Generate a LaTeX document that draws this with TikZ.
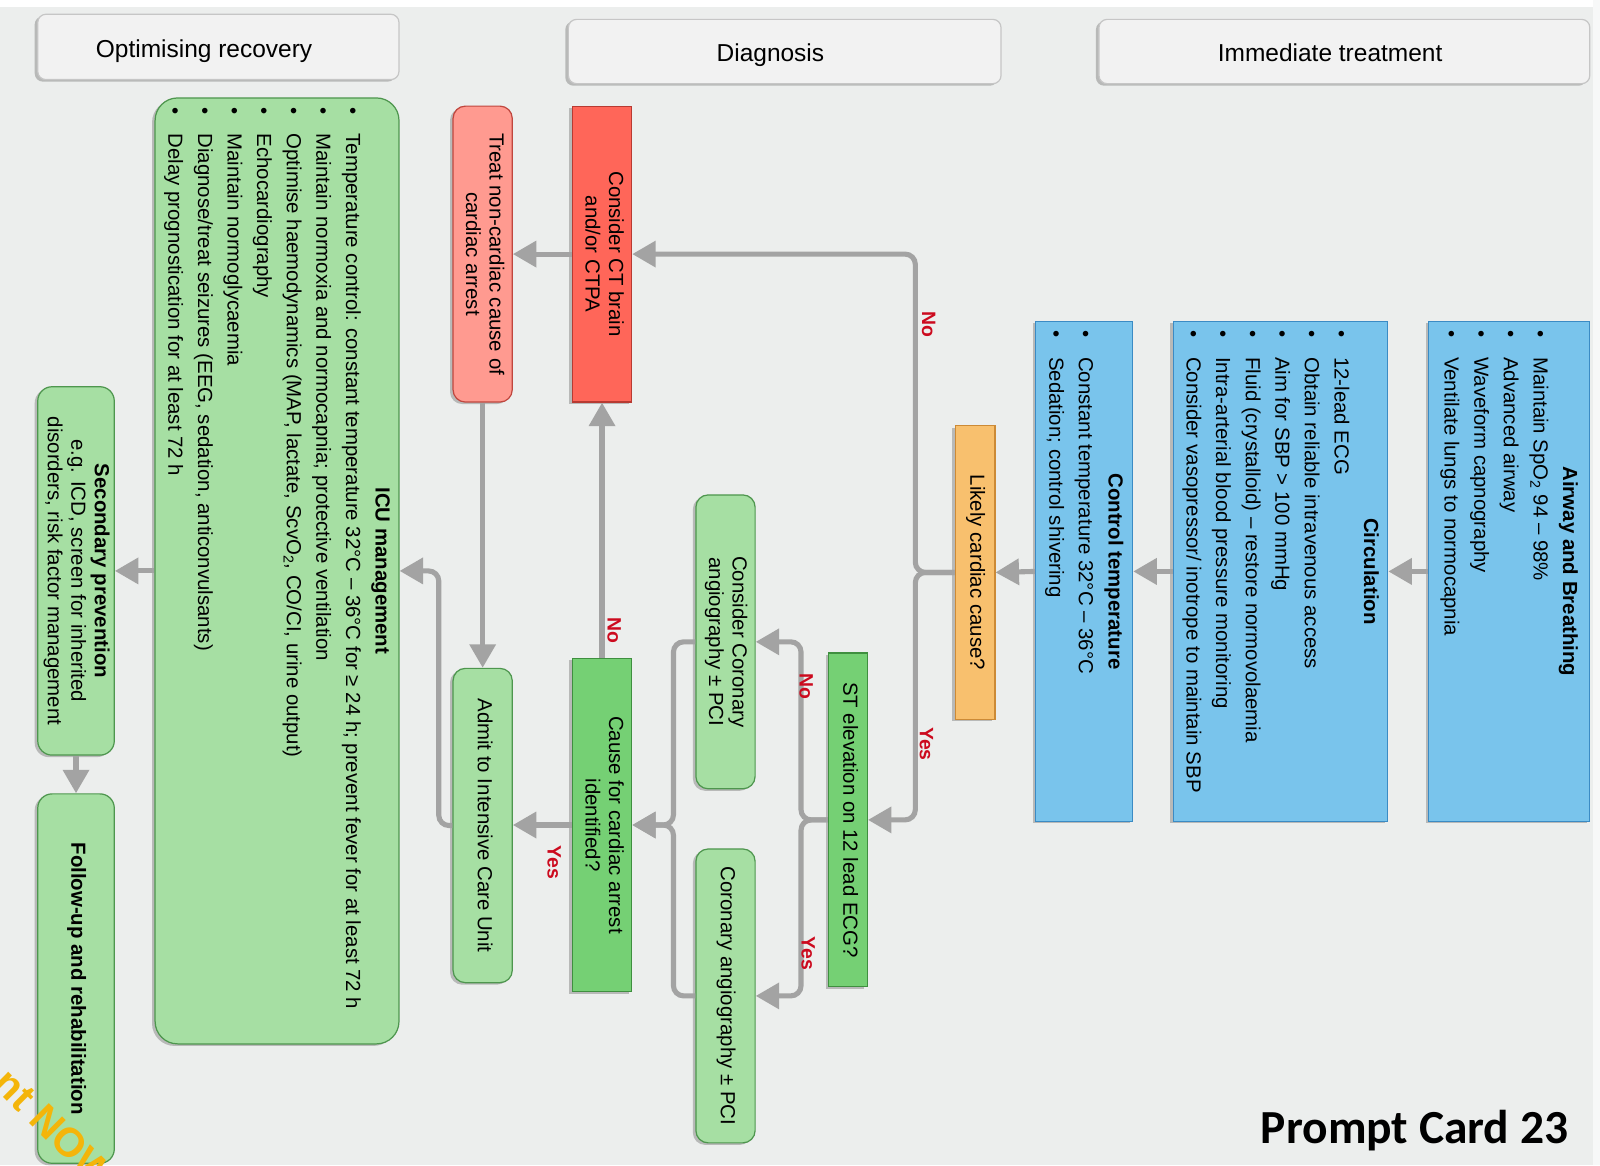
\documentclass[tikz,border=0pt]{standalone}
\usepackage{fontspec}
\usepackage{graphicx}
\setmainfont{Liberation Sans}
\newfontfamily\calibfont{Carlito}
\usetikzlibrary{arrows.meta,shadows}

\definecolor{bg}{HTML}{ECEEED}
\definecolor{hdrfill}{HTML}{F2F2F2}
\definecolor{hdrdraw}{HTML}{C6C6C6}
\definecolor{bluefill}{HTML}{79C4EC}
\definecolor{bluedraw}{HTML}{3B8BC4}
\definecolor{orfill}{HTML}{F8C06E}
\definecolor{ordraw}{HTML}{CC8A36}
\definecolor{dgfill}{HTML}{75D074}
\definecolor{dgdraw}{HTML}{3F8F3F}
\definecolor{lgfill}{HTML}{A6DFA3}
\definecolor{lgdraw}{HTML}{4E964E}
\definecolor{redfill}{HTML}{FF6659}
\definecolor{reddraw}{HTML}{B83A32}
\definecolor{pinkfill}{HTML}{FF9A90}
\definecolor{pinkdraw}{HTML}{C0463E}
\definecolor{arrgray}{HTML}{A3A3A3}
\definecolor{lblred}{HTML}{CC0A1E}
\definecolor{gold}{HTML}{F4B50A}

\newcommand{\rtext}[1]{\rotatebox{-90}{\begin{tabular}{@{}c@{}}#1\end{tabular}}}
\newcommand{\blist}[3]{\rotatebox{-90}{\parbox{#1}{\fontsize{20pt}{29pt}\selectfont\centering\textbf{#2}\par\raggedright #3}}}
\newcommand{\bitem}[1]{\makebox[26pt][l]{\textbullet}#1\par}
\newcommand{\hdrtext}[1]{\raisebox{-10pt}[0pt][0pt]{\hspace*{-28pt}#1}}

\tikzset{
  shd/.style={drop shadow={shadow xshift=-3pt,shadow yshift=-2pt,fill=black,opacity=0.22}},
  box/.style={draw, line width=1.2pt, inner sep=0pt, font=\fontsize{20pt}{23pt}\selectfont, shd},
  hdr/.style={box, fill=hdrfill, draw=hdrdraw, rounded corners=8pt, font=\fontsize{24pt}{28pt}\selectfont},
  bluebox/.style={box, fill=bluefill, draw=bluedraw},
  orbox/.style={box, fill=orfill, draw=ordraw},
  dgbox/.style={box, fill=dgfill, draw=dgdraw},
  lgbox/.style={box, fill=lgfill, draw=lgdraw, rounded corners=12pt},
  redbox/.style={box, fill=redfill, draw=reddraw},
  pinkbox/.style={box, fill=pinkfill, draw=pinkdraw, rounded corners=12pt},
  arr/.style={draw=arrgray, line width=5pt, -{Triangle[length=23pt,width=25pt]}, rounded corners=10pt},
  lbl/.style={text=lblred, font=\bfseries\fontsize{19pt}{21pt}\selectfont, rotate=-90, inner sep=0pt},
}

\begin{document}
\begin{tikzpicture}[x=1pt,y=-1pt]
\useasboundingbox (0,0) rectangle (1568,1142);
\fill[bg] (0,0) rectangle (1568,1142);
\fill[white] (0,0) rectangle (1568,7);
\fill[white!60!bg] (1561,0) rectangle (1568,1142);
\begin{scope}
\clip (0,0) rectangle (1568,1142);

% headers
\node[hdr, minimum width=354pt, minimum height=64pt] (hrec) at (214,46) {\hdrtext{Optimising recovery}};
\node[hdr, minimum width=424pt, minimum height=63pt] (hdiag) at (769,50.5) {\hdrtext{Diagnosis}};
\node[hdr, minimum width=481pt, minimum height=63pt] (himm) at (1317.5,50.5) {\hdrtext{Immediate treatment}};

% immediate treatment
\node[bluebox, minimum width=158pt, minimum height=490pt] (air) at (1479,560)
  {\blist{472pt}{Airway and Breathing}{\bitem{Maintain SpO\textsubscript{2} 94 – 98\%}\bitem{Advanced airway}\bitem{Waveform capnography}\bitem{Ventilate lungs to normocapnia}}};
\node[bluebox, minimum width=210pt, minimum height=490pt] (circ) at (1255,560)
  {\blist{472pt}{Circulation}{\bitem{12-lead ECG}\bitem{Obtain reliable intravenous access}\bitem{Aim for SBP > 100 mmHg}\bitem{Fluid (crystalloid) – restore normovolaemia}\bitem{Intra-arterial blood pressure monitoring}\bitem{Consider vasopressor/ inotrope to maintain SBP}}};
\node[bluebox, minimum width=95pt, minimum height=490pt] (ctemp) at (1062.5,560)
  {\blist{472pt}{Control temperature}{\bitem{Constant temperature 32°C – 36°C}\bitem{Sedation; control shivering}}};

% diagnosis
\node[orbox, minimum width=39pt, minimum height=288pt] (likely) at (955.5,561) {\rtext{Likely cardiac cause?}};
\node[dgbox, minimum width=38pt, minimum height=327pt] (st) at (831,803.5) {\rtext{ST elevation on 12 lead ECG?}};
\node[lgbox, minimum width=58pt, minimum height=288pt] (ccons) at (711,629) {\rtext{Consider Coronary\\angiography ± PCI}};
\node[lgbox, minimum width=58pt, minimum height=288pt] (cang) at (711,976) {\rtext{Coronary angiography ± PCI}};
\node[dgbox, minimum width=58pt, minimum height=327pt] (cause) at (590,808.5) {\rtext{Cause for cardiac arrest\\identified?}};
\node[redbox, minimum width=58pt, minimum height=290pt] (ct) at (590,249) {\rtext{Consider CT brain\\and/or CTPA}};
\node[pinkbox, minimum width=58pt, minimum height=290pt] (treat) at (473,249) {\rtext{Treat non-cardiac cause of\\cardiac arrest}};
\node[lgbox, minimum width=58pt, minimum height=308pt] (admit) at (473,809) {\rtext{Admit to Intensive Care Unit}};

% optimising recovery
\node[lgbox, rounded corners=22pt, minimum width=239pt, minimum height=927pt] (icu) at (271.5,559.5)
  {\blist{909pt}{ICU management}{\bitem{Temperature control: constant temperature 32°C – 36°C for ≥ 24 h; prevent fever for at least 72 h}\bitem{Maintain normoxia and normocapnia; protective ventilation}\bitem{Optimise haemodynamics (MAP, lactate, ScvO\textsubscript{2}, CO/CI, urine output)}\bitem{Echocardiography}\bitem{Maintain normoglycaemia}\bitem{Diagnose/treat seizures (EEG, sedation, anticonvulsants)}\bitem{Delay prognostication for at least 72 h}}};
\node[lgbox, rounded corners=14pt, minimum width=75pt, minimum height=361pt] (sec) at (74.5,559.5)
  {\rtext{\textbf{Secondary prevention}\\e.g. ICD, screen for inherited\\disorders, risk factor management}};
\node[lgbox, rounded corners=14pt, minimum width=75pt, minimum height=362pt] (follow) at (74.5,959)
  {\rtext{\textbf{Follow-up and rehabilitation}}};

% junctions
\coordinate (j1) at (897,561);
\coordinate (j2) at (785,803.5);
\coordinate (j3) at (660,808.5);
\coordinate (j4) at (430,809);

% connectors
\draw[arr] (air.west) -- (circ.east);
\draw[arr] (circ.west) -- (ctemp.east);
\draw[arr] (ctemp.west) -- (likely.east);
\draw[arr] (likely.west) -- (j1) |- (ct.east);
\draw[arr] (likely.west) -- (j1) |- (st.east);
\draw[arr] (st.west) -- (j2) |- (ccons.east);
\draw[arr] (st.west) -- (j2) |- (cang.east);
\draw[arr] (ccons.west) -| (j3) -- (cause.east);
\draw[arr] (cang.west) -| (j3) -- (cause.east);
\draw[arr] (cause.north) -- (ct.south);
\draw[arr] (cause.west) -- (cause.west -| admit.east);
\draw[arr] (ct.west) -- (treat.east);
\draw[arr] (treat.south) -- (admit.north);
\draw[arr] (admit.west) -- (j4) |- (icu.east);
\draw[arr] (icu.west) -- (sec.east);
\draw[arr] (sec.south) -- (follow.north);

% labels
\node[lbl] (l1) at (910,318) {No};
\node[lbl] (l2) at (908,729) {Yes};
\node[lbl] (l3) at (790,673) {No};
\node[lbl] (l4) at (792,934) {Yes};
\node[lbl] (l5) at (602,618) {No};
\node[lbl] (l6) at (543,845) {Yes};

% card title and watermark
\node[anchor=base east, inner sep=0pt, font=\calibfont\bfseries\fontsize{46.5pt}{50pt}\selectfont] (card) at (1537,1121) {Prompt Card 23};
\node[anchor=base west, rotate=-45, inner sep=0pt, text=gold, font=\bfseries\fontsize{40pt}{44pt}\selectfont] (wm) at (-8,1064) {nt NOW};
\end{scope}
\end{tikzpicture}
\end{document}
